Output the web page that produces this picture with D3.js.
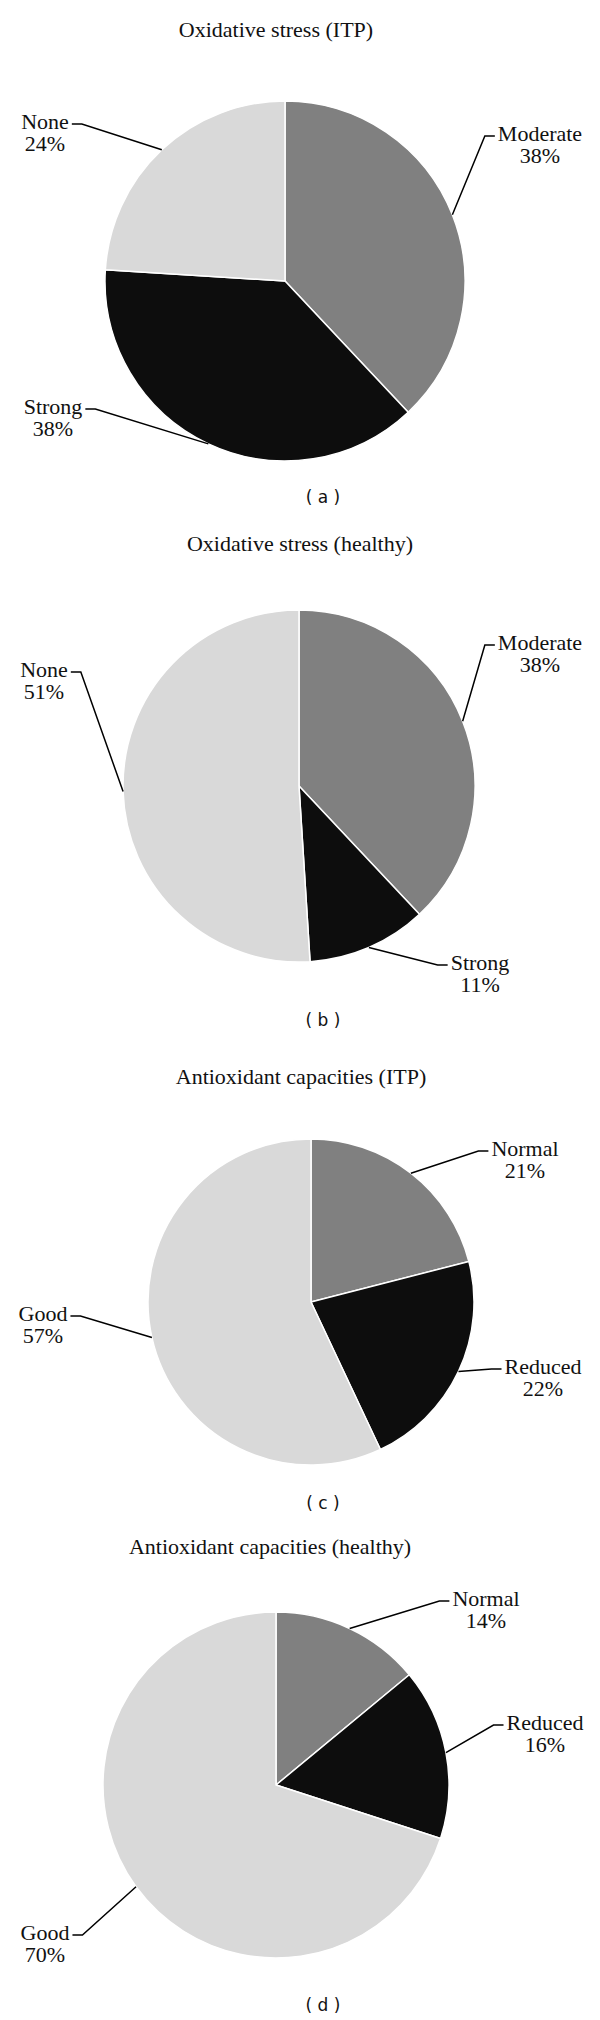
<!DOCTYPE html>
<html>
<head>
<meta charset="utf-8">
<script src="https://cdn.jsdelivr.net/npm/d3@7/dist/d3.min.js"></script>
<style>
  html, body { margin: 0; padding: 0; background: #ffffff; }
  svg { display: block; }
</style>
</head>
<body>
<svg id="chart" width="600" height="2020"></svg>
<script>
// ---------------- DATA ----------------
const titles = [
  "Oxidative stress (ITP)",
  "Oxidative stress (healthy)",
  "Antioxidant capacities (ITP)",
  "Antioxidant capacities (healthy)"
];
const panelLetters = ["a", "b", "c", "d"];
const stressCategories = ["Moderate", "Strong", "None"];
const capacityCategories = ["Normal", "Reduced", "Good"];
const stressITP = [38, 38, 24];
const stressHealthy = [38, 11, 51];
const capacityITP = [21, 22, 57];
const capacityHealthy = [14, 16, 70];
const sliceColors = ["#808080", "#0d0d0d", "#d9d9d9"];

const panelCategories = [stressCategories, stressCategories, capacityCategories, capacityCategories];
const panelValues = [stressITP, stressHealthy, capacityITP, capacityHealthy];

// ---------------- LAYOUT ----------------
const pieCenters = [[285, 281], [299, 786], [311, 1302], [276, 1785]];
const pieRadii = [180, 176, 163, 173];
const titleX = [276, 300, 301, 270];
const titleY = [37, 551, 1084, 1554];
const letterY = [503, 1026, 1509, 2011];
const letterX = 323;
// label block: [centerX, first-line centerY, side of pie]  (per slice order)
const labelPos = [
  [[540, 133, "r"], [53, 406, "l"], [45, 121, "l"]],
  [[540, 642, "r"], [480, 962, "r"], [44, 669, "l"]],
  [[525, 1148, "r"], [543, 1366, "r"], [43, 1313, "l"]],
  [[486, 1598, "r"], [545, 1722, "r"], [45, 1932, "l"]]
];
const fontSize = 22;
const lineGap = 22;

const svg = d3.select("#chart");
const color = d3.scaleOrdinal().domain([0, 1, 2]).range(sliceColors);
const pie = d3.pie().sort(null).value(d => d.value).startAngle(0).endAngle(2 * Math.PI);

titles.forEach((title, i) => {
  const [cx, cy] = pieCenters[i];
  const r = pieRadii[i];
  const data = panelCategories[i].map((c, k) => ({ cat: c, value: panelValues[i][k], idx: k }));
  const arcs = pie(data);
  const arc = d3.arc().innerRadius(0).outerRadius(r);

  // title
  svg.append("text")
    .attr("x", titleX[i]).attr("y", titleY[i])
    .attr("text-anchor", "middle")
    .style("font-family", "'Liberation Serif', 'Times New Roman', serif")
    .style("font-size", fontSize + "px")
    .style("fill", "#111111")
    .text(title);

  const g = svg.append("g").attr("transform", `translate(${cx},${cy})`);
  g.selectAll("path.slice")
    .data(arcs)
    .enter().append("path")
    .attr("class", "slice")
    .attr("d", arc)
    .attr("fill", d => color(d.data.idx))
    .attr("stroke", "#ffffff")
    .attr("stroke-width", 1.5)
    .attr("stroke-linejoin", "round");

  // labels with leader lines
  arcs.forEach((a, k) => {
    const [lx, ly, side] = labelPos[i][k];
    const t = svg.append("text")
      .attr("text-anchor", "middle")
      .style("font-family", "'Liberation Serif', 'Times New Roman', serif")
      .style("font-size", fontSize + "px")
      .style("fill", "#111111");
    t.append("tspan").attr("x", lx).attr("y", ly + 7.5).text(a.data.cat);
    t.append("tspan").attr("x", lx).attr("y", ly + 7.5 + lineGap).text(a.data.value + "%");

    const w = t.select("tspan").node().getComputedTextLength();
    const mid = (a.startAngle + a.endAngle) / 2;
    const ax = cx + r * Math.sin(mid);
    const ay = cy - r * Math.cos(mid);
    const hy = ly + 3;
    let x0, x1;
    if (side === "l") { x0 = lx + w / 2 + 3; x1 = x0 + 10; }
    else { x0 = lx - w / 2 - 3; x1 = x0 - 10; }
    svg.append("path")
      .attr("d", d3.line()([[x0, hy], [x1, hy], [ax, ay]]))
      .attr("fill", "none")
      .attr("stroke", "#000000")
      .attr("stroke-width", 1.5);
  });

  // panel letter
  svg.append("text")
    .attr("x", letterX).attr("y", letterY[i])
    .attr("text-anchor", "middle")
    .style("font-family", "'DejaVu Sans', Verdana, sans-serif")
    .style("font-size", "17px")
    .style("fill", "#111111")
    .text("( " + panelLetters[i] + " )");
});
</script>
</body>
</html>
